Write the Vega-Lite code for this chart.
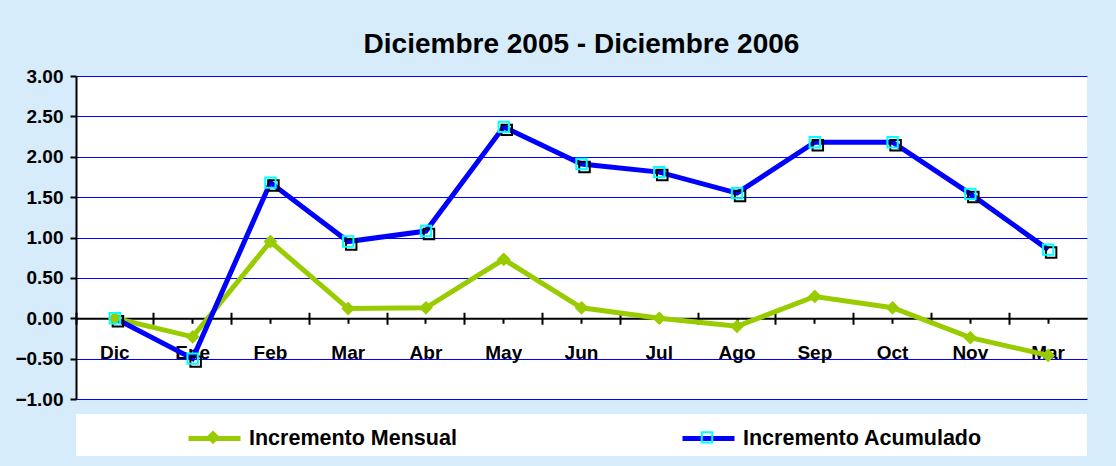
{
  "$schema": "https://vega.github.io/schema/vega-lite/v6.json",
  "width": 1011,
  "height": 323,
  "autosize": {"type": "none"},
  "padding": {"left": 76, "top": 76, "right": 29, "bottom": 67},
  "background": "#D6ECFB",
  "config": {"view": {"fill": "white", "stroke": null}, "font": "Liberation Sans",
    "axisY": {"values": [-1, -0.5, 0, 0.5, 1, 1.5, 2, 2.5, 3], "format": ".2f", "title": null, "grid": true, "gridColor": "#0000FF", "gridWidth": 1, "gridOpacity": 1, "domainColor": "black", "domainWidth": 2, "tickColor": "black", "tickWidth": 2, "tickSize": 6, "labelPadding": 7, "labelFont": "Liberation Sans", "labelFontSize": 19, "labelFontWeight": "bold", "labelColor": "black"}},
  "title": {"text": "Diciembre 2005 - Diciembre 2006", "font": "Liberation Sans", "fontSize": 28, "fontWeight": "bold", "color": "black", "anchor": "middle", "frame": "group", "offset": 8},
  "data": {"values": [
    {"mes": "Dic", "serie": "Incremento Mensual", "valor": 0},
    {"mes": "Ene", "serie": "Incremento Mensual", "valor": -0.23},
    {"mes": "Feb", "serie": "Incremento Mensual", "valor": 0.95},
    {"mes": "Mar", "serie": "Incremento Mensual", "valor": 0.12},
    {"mes": "Abr", "serie": "Incremento Mensual", "valor": 0.13},
    {"mes": "May", "serie": "Incremento Mensual", "valor": 0.73},
    {"mes": "Jun", "serie": "Incremento Mensual", "valor": 0.13},
    {"mes": "Jul", "serie": "Incremento Mensual", "valor": 0.0},
    {"mes": "Ago", "serie": "Incremento Mensual", "valor": -0.1},
    {"mes": "Sep", "serie": "Incremento Mensual", "valor": 0.27},
    {"mes": "Oct", "serie": "Incremento Mensual", "valor": 0.13},
    {"mes": "Nov", "serie": "Incremento Mensual", "valor": -0.24},
    {"mes": "Mar ", "serie": "Incremento Mensual", "valor": -0.46},
    {"mes": "Dic", "serie": "Incremento Acumulado", "valor": 0},
    {"mes": "Ene", "serie": "Incremento Acumulado", "valor": -0.5},
    {"mes": "Feb", "serie": "Incremento Acumulado", "valor": 1.68},
    {"mes": "Mar", "serie": "Incremento Acumulado", "valor": 0.95},
    {"mes": "Abr", "serie": "Incremento Acumulado", "valor": 1.08},
    {"mes": "May", "serie": "Incremento Acumulado", "valor": 2.37},
    {"mes": "Jun", "serie": "Incremento Acumulado", "valor": 1.91},
    {"mes": "Jul", "serie": "Incremento Acumulado", "valor": 1.81},
    {"mes": "Ago", "serie": "Incremento Acumulado", "valor": 1.55},
    {"mes": "Sep", "serie": "Incremento Acumulado", "valor": 2.18},
    {"mes": "Oct", "serie": "Incremento Acumulado", "valor": 2.18},
    {"mes": "Nov", "serie": "Incremento Acumulado", "valor": 1.54},
    {"mes": "Mar ", "serie": "Incremento Acumulado", "valor": 0.85}
  ]},
  "layer": [
    {
      "data": {"values": [{}]},
      "mark": {"type": "rect", "color": "white"},
      "encoding": {
        "y": {"datum": -1.186, "type": "quantitative", "scale": {"domain": [-1, 3], "nice": false, "zero": false}},
        "y2": {"datum": -1.706}
      }
    },
    {
      "mark": {"type": "line", "strokeWidth": 5},
      "encoding": {
        "x": {"field": "mes", "type": "nominal", "sort": null,
          "scale": {"type": "band", "paddingInner": 0, "paddingOuter": 0},
          "axis": {"orient": "bottom", "offset": -80.75, "title": null, "labelAngle": 0, "domainColor": "black", "domainWidth": 2, "ticks": true, "tickSize": 5, "tickWidth": 2, "tickColor": "black", "labelPadding": 20, "labelFont": "Liberation Sans", "labelFontSize": 19, "labelFontWeight": "bold", "labelColor": "black", "grid": false}},
        "y": {"field": "valor", "type": "quantitative",
          "scale": {"domain": [-1, 3], "nice": false, "zero": false}},
        "color": {"field": "serie", "type": "nominal",
          "scale": {"domain": ["Incremento Mensual", "Incremento Acumulado"], "range": ["#99CC00", "#0000FF"]},
          "legend": {"orient": "none", "legendX": 110, "legendY": 334, "direction": "horizontal", "title": null, "padding": 0, "symbolType": "stroke", "symbolSize": 2704, "symbolStrokeWidth": 5, "labelOffset": 6, "columnPadding": 215, "labelFont": "Liberation Sans", "labelFontSize": 21.5, "labelFontWeight": "bold", "labelColor": "black", "labelLimit": 400, "zindex": 0}}
      }
    },
    {
      "transform": [{"filter": "datum.serie == 'Incremento Acumulado'"}],
      "mark": {"type": "point", "shape": "square", "size": 110, "filled": false, "stroke": "black", "strokeWidth": 2, "opacity": 1, "xOffset": 3, "yOffset": 3},
      "encoding": {
        "x": {"field": "mes", "type": "nominal", "sort": null,
          "axis": {"orient": "bottom", "offset": -80.75, "title": null, "bandPosition": 0, "labels": false, "domain": false, "ticks": true, "tickSize": 6, "tickWidth": 2, "tickColor": "black", "grid": false}},
        "y": {"field": "valor", "type": "quantitative"}
      }
    },
    {
      "mark": {"type": "point", "size": 2704, "strokeWidth": 2, "opacity": 1},
      "encoding": {
        "x": {"field": "mes", "type": "nominal", "sort": null,
          "axis": {"orient": "top", "offset": -242.25, "title": null, "bandPosition": 0, "labels": false, "domain": false, "ticks": true, "tickSize": 6, "tickWidth": 2, "tickColor": "black", "grid": false}},
        "y": {"field": "valor", "type": "quantitative"},
        "shape": {"field": "serie", "type": "nominal", "sort": "descending",
          "scale": {"range": ["M0,-0.21L0.21,0L0,0.21L-0.21,0Z", "M-0.2,-0.2H0.2V0.2H-0.2Z"]},
          "legend": {"orient": "none", "legendX": 110, "legendY": 334, "direction": "horizontal", "title": null, "padding": 0, "symbolSize": 2704, "symbolStrokeWidth": 2, "labelOffset": 6, "columnPadding": 434, "labelExpr": "''", "labelLimit": 400, "zindex": 1}},
        "fill": {"field": "serie", "type": "nominal", "sort": "descending",
          "scale": {"range": ["#99CC00", "transparent"]},
          "legend": {"orient": "none", "legendX": 110, "legendY": 334, "direction": "horizontal", "title": null, "padding": 0, "symbolSize": 2704, "symbolStrokeWidth": 2, "labelOffset": 6, "columnPadding": 434, "labelExpr": "''", "labelLimit": 400, "zindex": 1}},
        "stroke": {"field": "serie", "type": "nominal", "sort": "descending",
          "scale": {"range": ["#99CC00", "#00FFFF"]},
          "legend": {"orient": "none", "legendX": 110, "legendY": 334, "direction": "horizontal", "title": null, "padding": 0, "symbolSize": 2704, "symbolStrokeWidth": 2, "labelOffset": 6, "columnPadding": 434, "labelExpr": "''", "labelLimit": 400, "zindex": 1}}
      }
    }
  ],
  "resolve": {"axis": {"x": "independent"}}
}
